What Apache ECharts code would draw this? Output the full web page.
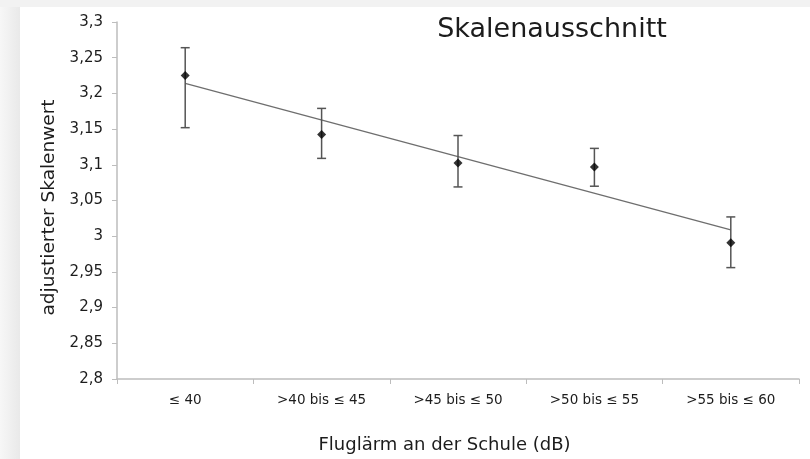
<!DOCTYPE html>
<html>
<head>
<meta charset="utf-8">
<script src="https://cdn.jsdelivr.net/npm/echarts@6/dist/echarts.min.js"></script>
<style>
  html, body { margin: 0; padding: 0; background: #f2f2f2; }
  #chart { width: 810px; height: 459px; }
</style>
</head>
<body>
<div id="chart"></div>
<script>
// Noise categories at the school
const categories = ['≤ 40', '>40 bis ≤ 45', '>45 bis ≤ 50', '>50 bis ≤ 55', '>55 bis ≤ 60'];
// Adjusted scale means with confidence limits
const means = [3.225, 3.1425, 3.1025, 3.097, 2.991];
const lower = [3.152, 3.109, 3.069, 3.070, 2.956];
const upper = [3.264, 3.179, 3.141, 3.123, 3.027];
// Linear trend, values at the first and last category
const trendEnds = [3.214, 3.009];
// Y-axis scale
const yMin = 2.8, yMax = 3.3, yStep = 0.05;

const font = 'DejaVu Sans';
const ink = '#1c1c1c';
const chart = echarts.init(document.getElementById('chart'), null, { renderer: 'canvas' });

const errData = categories.map((c, i) => [i, lower[i], upper[i]]);

chart.setOption({
  backgroundColor: 'transparent',
  animation: false,
  graphic: [
    { type: 'rect', z: -10, shape: { x: 0, y: 0, width: 810, height: 459 }, style: { fill: '#f2f2f2' } },
    { type: 'rect', z: -9, shape: { x: 0, y: 7, width: 20, height: 452 },
      style: { fill: new echarts.graphic.LinearGradient(0, 0, 1, 0, [
        { offset: 0, color: '#f7f7f7' }, { offset: 1, color: '#e9e9e9' }]) } },
    { type: 'rect', z: -8, shape: { x: 20, y: 7, width: 790, height: 452 }, style: { fill: '#ffffff' } },
    { type: 'text', z: 10, style: {
        x: 552, y: 30, text: 'Skalenausschnitt',
        textAlign: 'center', textVerticalAlign: 'middle',
        font: '27px "DejaVu Sans"', fill: ink } }
  ],
  grid: { left: 117, right: 11, top: 22, bottom: 75 },
  xAxis: {
    type: 'category',
    data: categories,
    boundaryGap: true,
    axisLine: { lineStyle: { color: '#bdbdbd', width: 1.5 } },
    axisTick: { show: true, length: 5, lineStyle: { color: '#bdbdbd' } },
    axisLabel: { fontFamily: font, fontSize: 13.5, color: ink, margin: 14 },
    name: 'Fluglärm an der Schule (dB)',
    nameLocation: 'middle',
    nameGap: 57,
    nameTextStyle: { fontFamily: font, fontSize: 18, color: ink, padding: [0, 27, 0, 0] }
  },
  yAxis: {
    type: 'value',
    min: yMin, max: yMax, interval: yStep,
    splitLine: { show: false },
    axisLine: { show: true, lineStyle: { color: '#bdbdbd', width: 1.5 } },
    axisTick: { show: true, length: 5, lineStyle: { color: '#bdbdbd' } },
    axisLabel: {
      fontFamily: font, fontSize: 15, color: ink, margin: 14,
      formatter: v => String(Math.round(v * 100) / 100).replace('.', ',')
    },
    name: 'adjustierter Skalenwert',
    nameLocation: 'middle',
    nameGap: 58,
    nameTextStyle: { fontFamily: font, fontSize: 18.5, color: ink, padding: [0, 14, 0, 0] }
  },
  series: [
    {
      type: 'line',
      data: [[0, trendEnds[0]], [categories.length - 1, trendEnds[1]]],
      symbol: 'none',
      lineStyle: { color: '#6e6e6e', width: 1.3 },
      z: 2
    },
    {
      type: 'custom',
      data: errData,
      renderItem: function (params, api) {
        const x = api.value(0);
        const lo = api.coord([x, api.value(1)]);
        const hi = api.coord([x, api.value(2)]);
        const cap = 4.5;
        const style = { stroke: '#555', lineWidth: 1.5 };
        return {
          type: 'group',
          children: [
            { type: 'line', shape: { x1: lo[0], y1: lo[1], x2: hi[0], y2: hi[1] }, style },
            { type: 'line', shape: { x1: lo[0] - cap, y1: lo[1], x2: lo[0] + cap, y2: lo[1] }, style },
            { type: 'line', shape: { x1: hi[0] - cap, y1: hi[1], x2: hi[0] + cap, y2: hi[1] }, style }
          ]
        };
      },
      z: 3
    },
    {
      type: 'scatter',
      data: means,
      symbol: 'diamond',
      symbolSize: 9,
      itemStyle: { color: '#000' },
      z: 4
    }
  ]
});
</script>
</body>
</html>
